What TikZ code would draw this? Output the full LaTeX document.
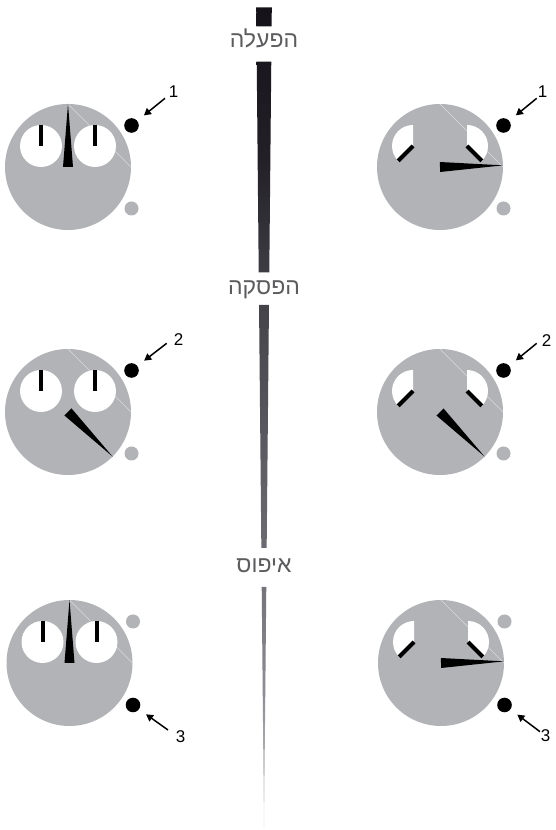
\documentclass[tikz,border=0pt]{standalone}
\usepackage{fontspec}
\setmainfont{Liberation Sans}
\newfontfamily\hebfont[Script=Hebrew]{Liberation Sans}
\TeXXeTstate=1
\usetikzlibrary{arrows.meta}
\definecolor{dialgrey}{HTML}{B1B3B6}
\definecolor{chordcol}{HTML}{D9DADC}
\definecolor{labelgrey}{HTML}{5C5C5F}
\definecolor{barA}{HTML}{D4D4D8}
\definecolor{barB}{HTML}{8E8E94}
\definecolor{barC}{HTML}{6E6E74}
\definecolor{barD}{HTML}{404046}
\definecolor{barE}{HTML}{221F26}
\definecolor{barF}{HTML}{16121A}
\pgfdeclareverticalshading{barshade}{100bp}{color(0bp)=(barA); color(25bp)=(barA); color(33bp)=(barB); color(41bp)=(barC); color(58bp)=(barD); color(66bp)=(barE); color(75bp)=(barF); color(100bp)=(barF)}
\tikzset{
  subhand/.style={line width=4pt, line cap=butt, black},
  chord/.style={draw=chordcol, line width=0.6pt},
  blackbtn/.style={circle, fill=black, inner sep=0pt, minimum size=14.6pt},
  greybtn/.style={circle, fill=dialgrey, inner sep=0pt, minimum size=14pt},
  callout/.style={line width=1.5pt, -{Triangle[length=7pt,width=7.5pt]}, shorten >=8.5pt},
  numlabel/.style={font=\fontsize{17}{17}\selectfont, inner sep=0pt},
  heblabel/.style={font=\fontsize{23}{23}\hebfont, text=labelgrey, inner sep=0pt, anchor=base},
  pics/dial/.style={code={
    \fill[dialgrey] (0,0) circle (63);
    \draw[chord] (90:63) -- (0:63);
  }},
  pics/whitedials/.style={code={
    \fill[white] (-27,21) circle (21);
    \fill[white] (27,21) circle (21);
    \draw[subhand] (-27,21) -- ++(90:21);
    \draw[subhand] (27,21) -- ++(90:21);
  }},
  pics/sectordials/.style={code={
    \fill[white] (-27,21) -- ++(90:21) arc[start angle=90, end angle=225, radius=21] -- cycle;
    \fill[white] (27,21) -- ++(-45:21) arc[start angle=-45, end angle=90, radius=21] -- cycle;
    \draw[subhand] (-27,21) -- ++(225:21);
    \draw[subhand] (27,21) -- ++(-45:21);
  }},
  pics/mainhand/.style={code={
    \fill[black] (#1+90:5) -- (#1:63) -- (#1-90:5) -- cycle;
  }},
}
\begin{document}
\begin{tikzpicture}[x=1pt, y=1pt]
\useasboundingbox (0,0) rectangle (555,830);
\fill[white] (0,0) rectangle (555,830);

% central tapered bar
\begin{scope}
  \clip (240,803.5) rectangle (290,822.7)
        (240,557.5) rectangle (290,768.3)
        (240,282) rectangle (290,525)
        (240,0) rectangle (290,243);
  \shade[shading=barshade] (256.2,822.7) -- (271.8,822.7) -- (264,2) -- cycle;
\end{scope}
\node[heblabel] (lstart) at (264,782) {\beginR הפעלה\endR};
\node[heblabel] (lstop) at (264,535) {\beginR הפסקה\endR};
\node[heblabel] (lreset) at (264,257) {\beginR איפוס\endR};

% top row
\pic at (68,663) {dial};
\pic at (68,663) {whitedials};
\pic at (68,663) {mainhand=90};
\node[blackbtn] (btl) at (131.5,704.5) {};
\node[greybtn] (gtl) at (131.5,621.5) {};
\coordinate (atl) at (165,731.7);
\draw[callout] (atl) -- (btl);
\node[numlabel] (ntl) at (173.5,738.5) {1};

\pic at (440,663) {dial};
\pic at (440,663) {sectordials};
\pic at (440,663) {mainhand=1.5};
\node[blackbtn] (btr) at (503.5,704.5) {};
\node[greybtn] (gtr) at (503.5,621.5) {};
\coordinate (atr) at (536.7,731.7);
\draw[callout] (atr) -- (btr);
\node[numlabel] (ntr) at (542.5,738.5) {1};

% middle row
\pic at (68,418) {dial};
\pic at (68,418) {whitedials};
\pic at (68,418) {mainhand=-45};
\node[blackbtn] (bml) at (131.5,459.5) {};
\node[greybtn] (gml) at (131.5,376.5) {};
\coordinate (aml) at (166.7,486.7);
\draw[callout] (aml) -- (bml);
\node[numlabel] (nml) at (178.5,490) {2};

\pic at (440,418) {dial};
\pic at (440,418) {sectordials};
\pic at (440,418) {mainhand=-45};
\node[blackbtn] (bmr) at (503.5,459.5) {};
\node[greybtn] (gmr) at (503.5,376.5) {};
\coordinate (amr) at (536.7,486.7);
\draw[callout] (amr) -- (bmr);
\node[numlabel] (nmr) at (546.7,489) {2};

% bottom row
\pic at (69.5,167) {dial};
\pic at (69.5,167) {whitedials};
\pic at (69.5,167) {mainhand=90};
\node[greybtn] (gbl) at (133,208.5) {};
\node[blackbtn] (bbl) at (133,125) {};
\coordinate (abl) at (168,100);
\draw[callout] (abl) -- (bbl);
\node[numlabel] (nbl) at (180.5,93) {3};

\pic at (441,167) {dial};
\pic at (441,167) {sectordials};
\pic at (441,167) {mainhand=1.5};
\node[greybtn] (gbr) at (504.5,208.5) {};
\node[blackbtn] (bbr) at (504.5,125) {};
\coordinate (abr) at (540,98.3);
\draw[callout] (abr) -- (bbr);
\node[numlabel] (nbr) at (545.5,94) {3};
\end{tikzpicture}
\end{document}
